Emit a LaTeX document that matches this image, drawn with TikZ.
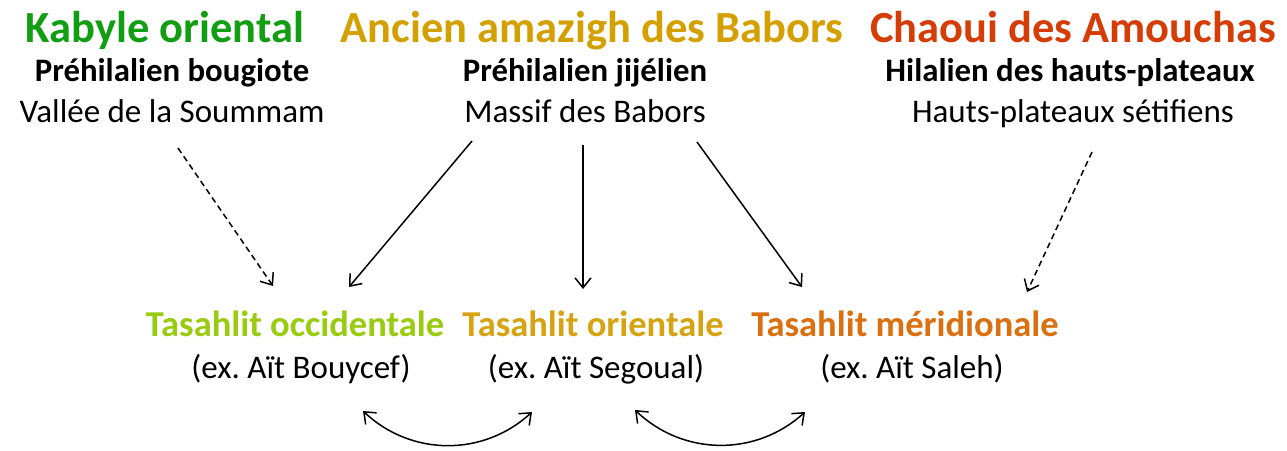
\documentclass[tikz,border=0pt]{standalone}
\usepackage{fontspec}
\setmainfont{Carlito}
\usetikzlibrary{arrows.meta}
\frenchspacing
\definecolor{cgreen}{HTML}{129E12}
\definecolor{cgold}{HTML}{D4A000}
\definecolor{cred}{HTML}{D63C06}
\definecolor{clime}{HTML}{99CC10}
\definecolor{corient}{HTML}{D6A412}
\definecolor{corange}{HTML}{DA7010}
\tikzset{
  title/.style={anchor=base, inner sep=0pt, font=\fontsize{44.5}{48}\selectfont\bfseries},
  sub/.style={anchor=base, inner sep=0pt, font=\fontsize{32.8}{36}\selectfont\bfseries},
  reg/.style={anchor=base, inner sep=0pt, font=\fontsize{33}{36}\selectfont},
  lang/.style={anchor=base, inner sep=0pt, font=\fontsize{36.5}{40}\selectfont\bfseries},
  tip/.style={Straight Barb[length=10pt,width=16pt,line width=1.5pt]},
  arr/.style={line width=1.5pt, -{Straight Barb[length=10pt,width=16pt,line width=1.5pt]}},
  darr/.style={arr, dash pattern=on 6pt off 4pt},
  barr/.style={line width=1.5pt, {Straight Barb[length=10pt,width=16pt,line width=1.5pt]}-{Straight Barb[length=10pt,width=16pt,line width=1.5pt]}},
}
\begin{document}
\begin{tikzpicture}[x=1pt,y=-1pt]
\useasboundingbox (0,0) rectangle (1287,450);
% titles
\node[title, text=cgreen] (t1) at (165,42) {Kabyle oriental};
\node[title, text=cgold] (t2) at (592,42) {Ancien amazigh des Babors};
\node[title, text=cred] (t3) at (1073,42) {Chaoui des Amouchas};
\node[sub] (s1) at (172,81) {Préhilalien bougiote};
\node[sub] (s2) at (585,81) {Préhilalien jijélien};
\node[sub] (s3) at (1070,81) {Hilalien des hauts-plateaux};
\node[reg] (r1) at (172,122) {Vallée de la Soummam};
\node[reg] (r2) at (585,122) {Massif des Babors};
\node[reg] (r3) at (1073,122) {Hauts-plateaux sétifiens};
% bottom
\node[lang, text=clime] (b1) at (295,336) {Tasahlit occidentale};
\node[lang, text=corient] (b2) at (593,336) {Tasahlit orientale};
\node[lang, text=corange] (b3) at (905,336) {Tasahlit méridionale};
\node[reg] (e1) at (301,378) {(ex. Aït Bouycef)};
\node[reg] (e2) at (596,378) {(ex. Aït Segoual)};
\node[reg] (e3) at (912,378) {(ex. Aït Saleh)};
% arrow anchor points
\coordinate (a1s) at (178,148);
\coordinate (a1e) at (273,286);
\coordinate (a2s) at (472,141);
\coordinate (a2e) at (349,287);
\coordinate (a3s) at (583,145);
\coordinate (a3e) at (583,289);
\coordinate (a4s) at (697,142);
\coordinate (a4e) at (802,287);
\coordinate (a5s) at (1092,152);
\coordinate (a5e) at (1027,292);
\coordinate (c1a) at (363,411);
\coordinate (c1b) at (532,412);
\coordinate (c2a) at (635,410);
\coordinate (c2b) at (805,412);
\draw[darr] (a1s) -- (a1e);
\draw[arr] (a2s) -- (a2e);
\draw[arr] (a3s) -- (a3e);
\draw[arr] (a4s) -- (a4e);
\draw[darr] (a5s) -- (a5e);
\draw[barr] (c1a) to[bend right=43] (c1b);
\draw[barr] (c2a) to[bend right=43] (c2b);
\end{tikzpicture}
\end{document}
